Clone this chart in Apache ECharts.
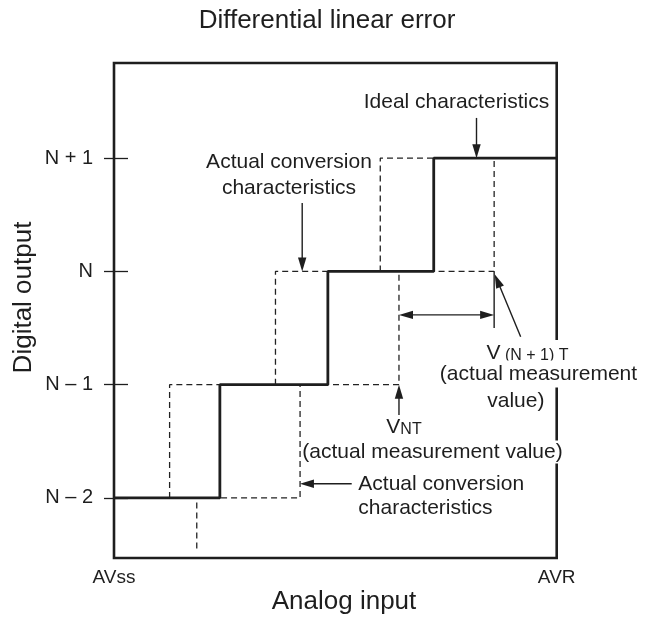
<!DOCTYPE html>
<html>
<head>
<meta charset="utf-8">
<script src="https://cdn.jsdelivr.net/npm/echarts@6/dist/echarts.min.js"></script>
<style>
    html, body { margin: 0; padding: 0; background: #fff; }
    #chartDle { width: 645px; height: 620px; }
</style>
</head>
<body>
<div id="chartDle"></div>
<script>
    // digital codes, bottom to top
    const levels = [0, 1, 2, 3];
    const levelLabels = ['N – 2', 'N – 1', 'N', 'N + 1'];
    // analog input range (ideal code width = 1)
    const xEnds = [0, 4.14];
    const xLabels = ['AVss', 'AVR'];
    // ideal transition points
    const idealSteps = [0.99, 2.0, 2.99];
    // actual conversion characteristics: earliest / latest transition
    const actualLow = [0.52, 1.51, 2.49];
    const actualHigh = [1.74, 2.665, 3.555];
    // short dashed mark under N - 2: [x, yFrom, yTo]
    const midMark = [0.774, -0.04, -0.47];
    // annotation arrows: [x1, y1, x2, y2, heads] (heads: 0 none, 1 at end, 2 both)
    const arrows = [
        [3.39, 3.355, 3.39, 3.0, 1],
        [1.76, 2.604, 1.76, 2.0, 1],
        [2.665, 0.733, 2.665, 1.0, 1],
        [2.223, 0.126, 1.739, 0.126, 1],
        [3.803, 1.424, 3.56, 1.975, 1],
        [2.665, 1.616, 3.555, 1.616, 2],
        [3.555, 2.0, 3.555, 1.5, 0]
    ];

    const FONT = "'Liberation Sans', Arial, Helvetica, sans-serif";
    const INK = '#1e1e1e';

    const idealData = [[xEnds[0], levels[0]]];
    idealSteps.forEach((x, i) => {
        idealData.push([x, levels[i]], [x, levels[i + 1]]);
    });
    idealData.push([xEnds[1], levels[levels.length - 1]]);

    const actualSeries = actualLow.map((lo, i) => {
        const hi = actualHigh[i];
        return {
            name: 'actual' + i,
            type: 'line',
            symbol: 'none',
            z: 2,
            lineStyle: { color: '#222', width: 1.3, type: [6, 4] },
            data: [[lo, levels[i]], [lo, levels[i + 1]], [hi, levels[i + 1]], [hi, levels[i]], [lo, levels[i]]]
        };
    });

    function txt(text, x, y, size, align, extra) {
        return Object.assign({
            type: 'text',
            x: x,
            y: y,
            z: 100,
            style: {
                text: text,
                fill: INK,
                fontSize: size,
                fontFamily: FONT,
                align: align || 'center',
                textAlign: align || 'center',
                verticalAlign: 'middle',
                textVerticalAlign: 'middle'
            }
        }, extra || {});
    }

    const vRich = {
        v: { fontSize: 21, fontFamily: FONT, color: INK, fill: INK, verticalAlign: 'bottom', lineHeight: 22 },
        s: { fontSize: 16, fontFamily: FONT, color: INK, fill: INK, verticalAlign: 'bottom', lineHeight: 19 }
    };

    const option = {
        animation: false,
        grid: {
            left: 114,
            top: 63,
            right: 88.3,
            bottom: 62,
            show: true,
            borderColor: INK,
            borderWidth: 2.6,
            outerBoundsMode: 'none'
        },
        xAxis: {
            type: 'value',
            min: xEnds[0],
            max: xEnds[1],
            axisLine: { show: false },
            axisTick: { show: false },
            splitLine: { show: false },
            axisLabel: {
                customValues: xEnds,
                showMinLabel: true,
                showMaxLabel: true,
                margin: 10,
                color: INK,
                fontSize: 19,
                fontFamily: FONT,
                formatter: (v) => xLabels[xEnds.indexOf(v)]
            }
        },
        yAxis: [
            {
                type: 'value',
                min: -0.53,
                max: 3.84,
                axisLine: { show: false },
                splitLine: { show: false },
                axisTick: {
                    show: true,
                    customValues: levels,
                    length: 10,
                    lineStyle: { color: INK, width: 1.3 }
                },
                axisLabel: {
                    customValues: levels,
                    margin: 21,
                    color: INK,
                    fontSize: 20,
                    fontFamily: FONT,
                    formatter: (v) => levelLabels[levels.indexOf(v)]
                }
            },
            {
                type: 'value',
                position: 'left',
                min: -0.53,
                max: 3.84,
                axisLine: { show: false },
                splitLine: { show: false },
                axisLabel: { show: false },
                axisTick: {
                    show: true,
                    inside: true,
                    customValues: levels,
                    length: 14,
                    lineStyle: { color: INK, width: 1.3 }
                }
            }
        ],
        series: [
            ...actualSeries,
            {
                name: 'mid',
                type: 'line',
                symbol: 'none',
                z: 2,
                lineStyle: { color: '#222', width: 1.3, type: [6, 4] },
                data: [[midMark[0], midMark[1]], [midMark[0], midMark[2]]]
            },
            {
                name: 'ideal',
                type: 'line',
                symbol: 'none',
                z: 3,
                lineStyle: { color: INK, width: 2.8 },
                data: idealData
            },
            {
                name: 'arrows',
                type: 'custom',
                z: 4,
                data: arrows,
                renderItem: function (params, api) {
                    const a = api.coord([api.value(0), api.value(1)]);
                    const b = api.coord([api.value(2), api.value(3)]);
                    const heads = api.value(4);
                    const len = Math.hypot(b[0] - a[0], b[1] - a[1]);
                    const ux = (b[0] - a[0]) / len;
                    const uy = (b[1] - a[1]) / len;
                    const L = 14, W = 4.2;
                    const head = function (tip, dx, dy) {
                        return {
                            type: 'polygon',
                            shape: {
                                points: [
                                    tip,
                                    [tip[0] - dx * L - dy * W, tip[1] - dy * L + dx * W],
                                    [tip[0] - dx * L + dy * W, tip[1] - dy * L - dx * W]
                                ]
                            },
                            style: { fill: INK }
                        };
                    };
                    const start = heads === 2 ? [a[0] + ux * (L - 2), a[1] + uy * (L - 2)] : a;
                    const end = heads >= 1 ? [b[0] - ux * (L - 2), b[1] - uy * (L - 2)] : b;
                    const children = [{
                        type: 'line',
                        shape: { x1: start[0], y1: start[1], x2: end[0], y2: end[1] },
                        style: { stroke: INK, lineWidth: 1.4 }
                    }];
                    if (heads >= 1) children.push(head(b, ux, uy));
                    if (heads === 2) children.push(head(a, -ux, -uy));
                    return { type: 'group', children: children };
                }
            }
        ],
        graphic: [
            txt('Differential linear error', 327, 20.5, 26),
            txt('Analog input', 344, 601.5, 26),
            txt('Digital output', 24, 297.5, 26, 'center', { rotation: Math.PI / 2 }),
            txt('Ideal characteristics', 456.5, 102, 21),
            txt('Actual conversion', 289, 162.5, 21),
            txt('characteristics', 289, 188, 21),
            txt('Actual conversion', 358.3, 484.7, 21, 'left'),
            txt('characteristics', 358.3, 508.7, 21, 'left'),
            {
                type: 'text', x: 404, y: 427, z: 100,
                style: {
                    text: '{v|V}{s|NT}', rich: vRich,
                    align: 'center', textAlign: 'center', verticalAlign: 'middle', textVerticalAlign: 'middle'
                }
            },
            {
                type: 'text', x: 432.5, y: 452, z: 100,
                style: {
                    text: '{t|(actual measurement }{w|value)}',
                    rich: {
                        t: { fontSize: 21, fontFamily: FONT, fill: INK, color: INK },
                        w: { fontSize: 21, fontFamily: FONT, fill: INK, color: INK, backgroundColor: '#fff', padding: [1, 0, 1, 0] }
                    },
                    align: 'center', textAlign: 'center', verticalAlign: 'middle', textVerticalAlign: 'middle'
                }
            },
            {
                type: 'text', x: 527.5, y: 352, z: 100,
                style: {
                    text: '{v|V}{s| (N + 1) T}', rich: vRich,
                    backgroundColor: '#fff', padding: [2, 2, 0, 2],
                    align: 'center', textAlign: 'center', verticalAlign: 'middle', textVerticalAlign: 'middle'
                }
            },
            txt('(actual measurement', 538.5, 374, 21, 'center', { style: {
                text: '(actual measurement', fill: INK, fontSize: 21, fontFamily: FONT,
                backgroundColor: '#fff', padding: [2, 2, 4, 2],
                align: 'center', textAlign: 'center', verticalAlign: 'middle', textVerticalAlign: 'middle'
            } }),
            txt('value)', 515.8, 401, 21)
        ]
    };

    const myChart = echarts.init(document.getElementById('chartDle'));
    myChart.setOption(option);
</script>
</body>
</html>
